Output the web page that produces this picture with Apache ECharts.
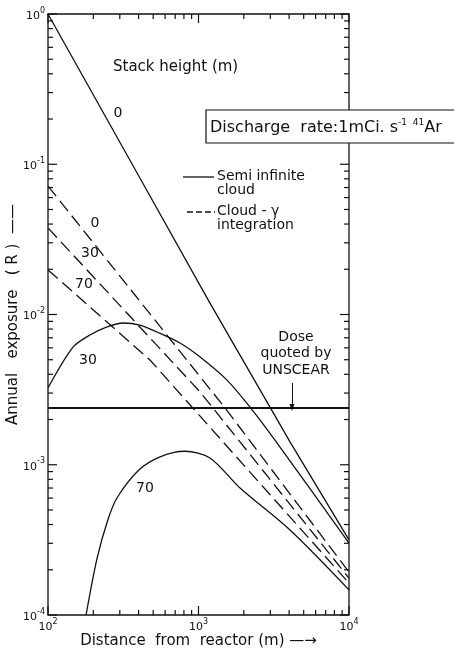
<!DOCTYPE html>
<html>
<head>
<meta charset="utf-8">
<script src="https://cdn.jsdelivr.net/npm/echarts@6/dist/echarts.min.js"></script>
<style>
html,body{margin:0;padding:0;background:#fff}
#c{width:454px;height:654px}
</style>
</head>
<body>
<div id="c"></div>
<script>
// Annual exposure (R) against distance from the reactor (m), 41Ar release of 1 mCi/s.
// Semi-infinite cloud model, by stack height.
const semiInf0 = [[100, 1], [408, 0.081], [1192, 0.0119], [2985, 0.00242], [4055, 0.00142], [10000, 0.000316]];
const semiInf30 = [[100, 0.00324], [147, 0.00608], [190, 0.0073], [247, 0.00826], [315, 0.00878],
  [408, 0.00851], [530, 0.00765], [753, 0.00646], [1025, 0.00521], [1546, 0.00366], [2198, 0.00242], [3221, 0.00146], [10000, 0.000301]];
const semiInf70 = [[179, 0.0001], [212, 0.000239], [250, 0.00043], [287, 0.000601], [400, 0.00092], [555, 0.00113],
  [813, 0.00123], [1192, 0.00111], [1888, 0.0007], [4055, 0.000368], [10000, 0.000147]];
// Cloud-gamma integration model, by stack height.
const gamma0 = [[100, 0.0716], [476, 0.0101], [1500, 0.00239], [10000, 0.000193]];
const gamma30 = [[100, 0.0377], [1025, 0.00305], [10000, 0.000176]];
const gamma70 = [[100, 0.0198], [476, 0.00498], [10000, 0.000163]];
// Dose quoted by UNSCEAR.
const unscearDose = 0.0024;
const unscearArrowX = 4180;
const unscearArrowTop = 0.0035;

// Axis ranges (decades).
const xDecades = [2, 3, 4];
const yDecades = [-4, -3, -2, -1, 0];

const FONT = 'DejaVu Sans';
const INK = '#111';

// Log-axis tick marks: majors at powers of ten, minors at 2..9 within each decade.
function logTicks(decades) {
  const out = [];
  for (let i = 0; i < decades.length; i++) {
    const base = Math.pow(10, decades[i]);
    out.push([base, 1]);
    if (i < decades.length - 1) {
      for (let m = 2; m <= 9; m++) out.push([m * base, 0]);
    }
  }
  return out;
}
const xMin = Math.pow(10, xDecades[0]), xMax = Math.pow(10, xDecades[xDecades.length - 1]);
const yMin = Math.pow(10, yDecades[0]), yMax = Math.pow(10, yDecades[yDecades.length - 1]);
const tickData = logTicks(xDecades).map(t => [t[0], yMin, t[1], 0])
  .concat(logTicks(yDecades).map(t => [xMin, t[0], t[1], 1]));

function powLabel(v) {
  const e = Math.round(Math.log10(v));
  return '{b|10}{s|' + (e < 0 ? '-' + (-e) : e) + '}';
}
const powRich = {
  b: { fontSize: 11, fontFamily: FONT, color: INK, verticalAlign: 'bottom', lineHeight: 15 },
  s: { fontSize: 8, fontFamily: FONT, color: INK, verticalAlign: 'top', lineHeight: 15 }
};

function curve(data, dashed, smooth) {
  return {
    type: 'line', data: data, showSymbol: false, symbol: 'none', silent: true,
    smooth: smooth ? 0.3 : false,
    lineStyle: { color: INK, width: 1.3, type: dashed ? [13, 6] : 'solid' },
    z: 3
  };
}

function label(x, y, text, size) {
  return { type: 'text', style: { x: x, y: y, text: text, font: (size || 14) + 'px ' + FONT, fill: INK, align: 'center', verticalAlign: 'middle' } };
}

const chart = echarts.init(document.getElementById('c'), null, { renderer: 'canvas' });
chart.setOption({
  animation: false,
  backgroundColor: '#fff',
  grid: {
    left: 48, right: 105, top: 14, bottom: 39, outerBoundsMode: 'none', containLabel: false,
    show: true, borderColor: INK, borderWidth: 1.3, backgroundColor: 'transparent'
  },
  xAxis: {
    type: 'log', logBase: 10, min: xMin, max: xMax,
    name: 'Distance  from  reactor (m) —→', nameLocation: 'middle', nameGap: 19, nameMoveOverlap: false,
    nameTextStyle: { fontFamily: FONT, fontSize: 15, color: INK },
    axisLine: { show: false }, axisTick: { show: false }, splitLine: { show: false },
    axisLabel: { formatter: powLabel, rich: powRich, margin: 3 }
  },
  yAxis: {
    type: 'log', logBase: 10, min: yMin, max: yMax,
    name: 'Annual   exposure   ( R )  ——', nameLocation: 'middle', nameGap: 27, nameRotate: 90, nameMoveOverlap: false,
    nameTextStyle: { fontFamily: FONT, fontSize: 15, color: INK },
    axisLine: { show: false }, axisTick: { show: false }, splitLine: { show: false },
    axisLabel: { formatter: powLabel, rich: powRich, margin: 3 }
  },
  series: [
    {
      type: 'custom', silent: true, clip: false, z: 4,
      data: tickData,
      renderItem: function (params, api) {
        const v = api.value(0), w = api.value(1), major = api.value(2), isY = api.value(3);
        const len = major ? 9 : 5;
        const style = { stroke: INK, lineWidth: 1.2 };
        if (!isY) {
          const b = api.coord([v, yMin]), t = api.coord([v, yMax]);
          return { type: 'group', children: [
            { type: 'line', shape: { x1: b[0], y1: b[1], x2: b[0], y2: b[1] - len }, style: style },
            { type: 'line', shape: { x1: t[0], y1: t[1], x2: t[0], y2: t[1] + len }, style: style }
          ] };
        }
        const l = api.coord([xMin, w]), r = api.coord([xMax, w]);
        return { type: 'group', children: [
          { type: 'line', shape: { x1: l[0], y1: l[1], x2: l[0] + len, y2: l[1] }, style: style },
          { type: 'line', shape: { x1: r[0], y1: r[1], x2: r[0] - len, y2: r[1] }, style: style }
        ] };
      }
    },
    Object.assign(curve(semiInf0, false, false), {
      markLine: {
        silent: true, symbol: 'none', animation: false,
        label: { show: false },
        lineStyle: { color: INK, width: 2, type: 'solid' },
        data: [[{ coord: [xMin, unscearDose] }, { coord: [xMax, unscearDose] }]]
      }
    }),
    curve(semiInf30, false, true),
    Object.assign(curve(semiInf70, false, true), {
      markLine: {
        silent: true, symbol: ['none', 'triangle'], symbolSize: [5, 7], animation: false,
        label: { show: false },
        lineStyle: { color: INK, width: 1, type: 'solid' },
        data: [[{ coord: [unscearArrowX, unscearArrowTop] }, { coord: [unscearArrowX, unscearDose] }]]
      }
    }),
    curve(gamma0, true, false),
    curve(gamma30, true, false),
    curve(gamma70, true, false)
  ],
  graphic: [
    { type: 'text', style: { x: 113, y: 67, text: 'Stack height (m)', font: '15px ' + FONT, fill: INK, verticalAlign: 'middle' } },
    // curve labels (stack height)
    label(118, 113, '0'),
    label(95, 223, '0'),
    label(90, 253, '30'),
    label(84, 284, '70'),
    label(88, 360, '30'),
    label(145, 488, '70'),
    // discharge rate box
    { type: 'rect', z: 10, shape: { x: 206, y: 110, width: 252, height: 33 }, style: { fill: '#fff', stroke: INK, lineWidth: 1.2 } },
    { type: 'text', z: 11, style: {
      x: 210, y: 127, verticalAlign: 'middle',
      text: '{a|Discharge  rate:1mCi. s}{s|-1  41}{a|Ar}',
      rich: {
        a: { fontFamily: FONT, fontSize: 16, fill: INK, verticalAlign: 'bottom', lineHeight: 18 },
        s: { fontFamily: FONT, fontSize: 9, fill: INK, verticalAlign: 'top', lineHeight: 18 }
      }
    } },
    // key
    { type: 'line', shape: { x1: 183, y1: 177, x2: 214, y2: 177 }, style: { stroke: INK, lineWidth: 1.3 } },
    { type: 'text', style: { x: 217, y: 169, text: 'Semi infinite\ncloud', font: '14px ' + FONT, fill: INK, lineHeight: 14, verticalAlign: 'top' } },
    { type: 'line', shape: { x1: 187, y1: 212, x2: 215, y2: 212 }, style: { stroke: INK, lineWidth: 1.3, lineDash: [6, 3] } },
    { type: 'text', style: { x: 217, y: 204, text: 'Cloud - γ\nintegration', font: '14px ' + FONT, fill: INK, lineHeight: 14, verticalAlign: 'top' } },
    // UNSCEAR note
    { type: 'text', style: { x: 296, y: 329, text: 'Dose\nquoted by\nUNSCEAR', font: '14px ' + FONT, fill: INK, lineHeight: 16.5, align: 'center', verticalAlign: 'top' } }
  ]
});
</script>
</body>
</html>
